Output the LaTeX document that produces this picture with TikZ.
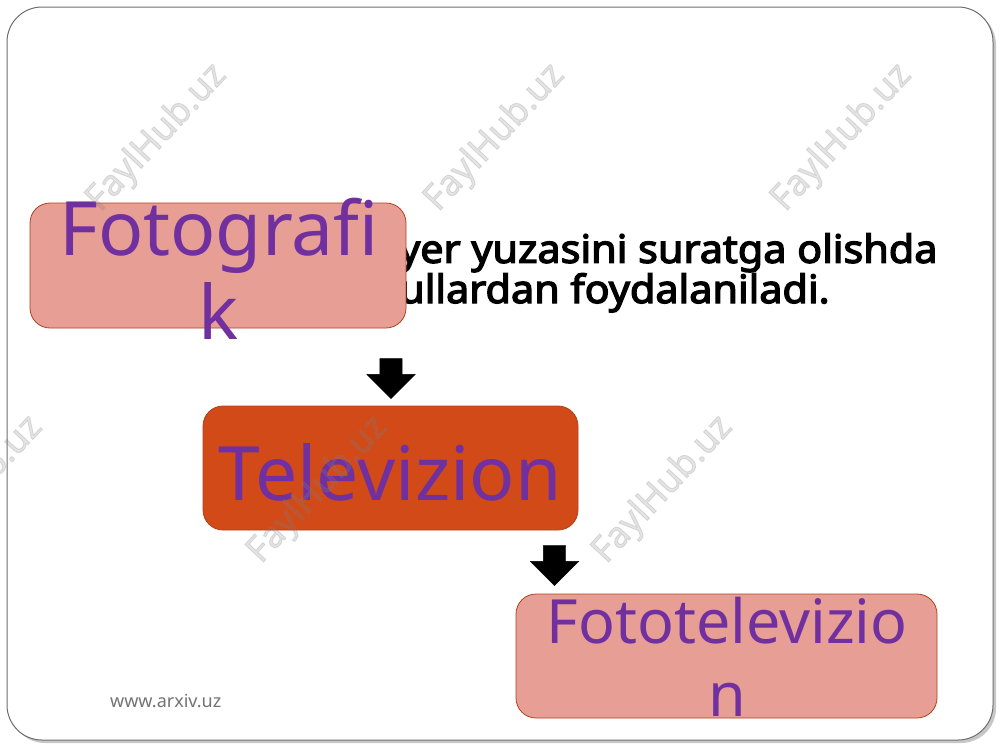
\documentclass[tikz,border=0pt]{standalone}
\usepackage{fontspec}
\setmainfont{Noto Sans}
\newfontfamily\heavysans{Noto Sans}[FakeBold=2.6]
\newfontfamily\introsans{Noto Sans}[FakeBold=3.4,FakeStretch=1.06]
\usetikzlibrary{shapes.arrows}
\definecolor{salmon}{RGB}{231,158,148}
\definecolor{tvfill}{RGB}{209,74,24}
\definecolor{boxedge}{RGB}{176,66,30}
\definecolor{lettercol}{RGB}{112,48,160}
\definecolor{framecol}{RGB}{110,110,110}

\begin{document}
\begin{tikzpicture}[x=1pt,y=-1pt,
  box node/.style={rectangle,rounded corners=20pt,draw=boxedge,line width=0.8pt,inner sep=0pt},
  label text/.style={text=lettercol,align=center,inner sep=0pt,anchor=base},
  down arrow/.style={single arrow,fill=black,draw=black,shape border rotate=270,
    minimum height=40pt,inner sep=11pt,single arrow head extend=13pt},
  mark text/.style={text=gray,text opacity=0.21,font=\heavysans\fontsize{36}{36}\selectfont,rotate=47}]

\useasboundingbox (0,0) rectangle (1000,750);

% slide frame
\fill[black!22,rounded corners=35pt] (10,10) rectangle (996,743);
\draw[framecol,fill=white,line width=1pt,rounded corners=35pt] (7,7) rectangle (993,740);

\node[anchor=base west,inner sep=0pt,font=\introsans\fontsize{39}{33}\selectfont,align=left]
  (intro) at (399,303) {yer yuzasini suratga olishda\\ullardan foydalaniladi.};

\node[box node,fill=salmon,minimum width=376pt,minimum height=125pt] (foto) at (218,265.5) {};
\node[box node,fill=tvfill,minimum width=375pt,minimum height=124pt] (tv) at (390.5,468) {};
\node[box node,fill=salmon,minimum width=421pt,minimum height=124pt] (fototv) at (726.5,656) {};

\node[label text,font=\fontsize{75}{84}\selectfont] (fototxt) at (219,339) {Fotografi\\k};
\node[label text,font=\fontsize{75}{84}\selectfont] (tvtxt) at (390,500) {Televizion};
\node[label text,font=\fontsize{61}{73}\selectfont] (fototvtxt) at (727,716) {Fototelevizio\\n};

\node[down arrow] (arr1) at (391,373) {};
\node[down arrow] (arr2) at (554.5,560) {};

\foreach \px/\py in {157/138,495/138,842/138,-27/490,318/490,663/490}
  \node[mark text] at (\px,\py) {FaylHub.uz};

\node[anchor=base west,inner sep=0pt,text=black!55,font=\fontsize{18}{18}\selectfont]
  (site) at (110,707) {www.arxiv.uz};
\end{tikzpicture}
\end{document}
